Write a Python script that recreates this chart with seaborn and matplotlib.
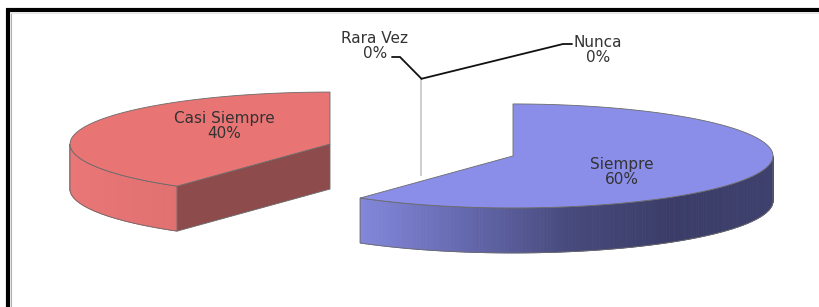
import numpy as np
import matplotlib
matplotlib.use("Agg")
import matplotlib.pyplot as plt
import seaborn as sns
from matplotlib.patches import Polygon

# ---------------- data ----------------
categories = ["Siempre", "Casi Siempre", "Rara Vez", "Nunca"]
values = [60, 40, 0, 0]
pct_labels = ["60%", "40%", "0%", "0%"]

# ---------------- styles ----------------
top_colors = ["#8a8ee9", "#e87474", "#bbbbbb", "#bbbbbb"]
cut_colors = ["#3e4070", "#8e4b4b", "#c8c8c8", "#c8c8c8"]
wall_palettes = [
    ["#8287da", "#6569ae", "#474a7c", "#3b3d68", "#3e406d"],
    ["#e97777", "#e57373", "#e07070"],
    ["#cccccc", "#cccccc"],
    ["#cccccc", "#cccccc"],
]

sns.set_theme(style="white")
plt.rcParams["font.family"] = ["DejaVu Sans"]

W, H = 820, 307
fig = plt.figure(figsize=(W / 100, H / 100), dpi=100)
ax = fig.add_axes([0, 0, 1, 1])
ax.set_xlim(0, W)
ax.set_ylim(H, 0)
ax.axis("off")

# layout of the 3D pie (pixels)
CX, CY = 421.5, 150.0
A, B = 260.0, 52.0
DEPTH = 45.0
EXPLODE = 0.37
EDGE = "#6b6b6b"
TXT = "#333333"
FS = 11
LS = 0.95


def pt(cx, cy, th, dy=0.0):
    r = np.radians(th)
    return cx + A * np.sin(r), cy - B * np.cos(r) + dy


total = float(sum(values))
start = 0.0
slices = []
for i, v in enumerate(values):
    span = 360.0 * v / total
    th1, th2 = start, start + span
    mid = (th1 + th2) / 2.0
    cx = CX + EXPLODE * A * np.sin(np.radians(mid))
    cy = CY - EXPLODE * B * np.cos(np.radians(mid))
    slices.append((i, v, th1, th2, cx, cy))
    start = th2

# zero-value slices: degenerate face (line)
for i, v, th1, th2, cx, cy in slices:
    if v == 0:
        rx, ry = pt(cx, cy, th1)
        poly = [(cx, cy), (rx, ry), (rx, ry + DEPTH), (cx, cy + DEPTH)]
        ax.add_patch(Polygon(poly, closed=True, fill=False,
                             edgecolor="#cfcfcf", lw=1.2, zorder=1))

# walls, cut faces and top faces
for i, v, th1, th2, cx, cy in slices:
    if v == 0:
        continue
    lo, hi = max(th1, 90.0), min(th2, 270.0)
    if hi > lo:
        ths = np.linspace(lo, hi, 160)
        xs = [pt(cx, cy, t)[0] for t in ths]
        xl, xr = min(xs), max(xs)
        pal = sns.blend_palette(wall_palettes[i], n_colors=256)
        for k in range(len(ths) - 1):
            p1 = pt(cx, cy, ths[k]); p2 = pt(cx, cy, ths[k + 1])
            xm = 0.5 * (p1[0] + p2[0])
            t = (xm - xl) / (xr - xl) if xr > xl else 0
            c = pal[int(np.clip(t, 0, 1) * 255)]
            quad = [p1, p2, (p2[0], p2[1] + DEPTH), (p1[0], p1[1] + DEPTH)]
            ax.add_patch(Polygon(quad, closed=True, facecolor=c,
                                 edgecolor=c, lw=0.6, zorder=2))
        top = [pt(cx, cy, t) for t in ths]
        bot = [pt(cx, cy, t, DEPTH) for t in ths[::-1]]
        ax.add_patch(Polygon(top + bot, closed=True, fill=False,
                             edgecolor=EDGE, lw=0.6, zorder=3))
    for th, sign in ((th1, -1), (th2, 1)):
        s = np.sin(np.radians(th))
        if sign * s > 1e-6:
            rx, ry = pt(cx, cy, th)
            face = [(cx, cy), (rx, ry), (rx, ry + DEPTH), (cx, cy + DEPTH)]
            ax.add_patch(Polygon(face, closed=True, facecolor=cut_colors[i],
                                 edgecolor=EDGE, lw=0.6, zorder=3))
    ths = np.linspace(th1, th2, 200)
    poly = [(cx, cy)] + [pt(cx, cy, t) for t in ths]
    ax.add_patch(Polygon(poly, closed=True, facecolor=top_colors[i],
                         edgecolor=EDGE, lw=0.6, zorder=4))

# labels for non-zero slices
label_offsets = {0: (109, 16), 1: (-106, -18)}
for i, v, th1, th2, cx, cy in slices:
    if v > 0:
        dx, dy = label_offsets[i]
        ax.text(cx + dx, cy + dy, f"{categories[i]}\n{pct_labels[i]}",
                ha="center", va="center", fontsize=FS, color=TXT,
                linespacing=LS, zorder=6)

# labels with leader lines for zero slices
leader = {2: [(400, 57), (392, 57)], 3: [(563, 44), (572, 44)]}
zero_text = {2: (375, 46), 3: (598, 50)}
for i, v, th1, th2, cx, cy in slices:
    if v == 0:
        rx, ry = pt(cx, cy, th1)
        pts = [(rx, ry)] + leader[i]
        ax.plot([p[0] for p in pts], [p[1] for p in pts], color="#111111",
                lw=1.3, solid_joinstyle="miter", zorder=5)
        tx, ty = zero_text[i]
        ax.text(tx, ty, f"{categories[i]}\n{pct_labels[i]}", ha="center",
                va="center", fontsize=FS, color=TXT, linespacing=LS,
                zorder=6)

# frame
ax.plot([6, W], [10, 10], color="black", lw=3.0, solid_capstyle="butt", zorder=7)
ax.plot([8, 8], [8.5, H], color="black", lw=3.0, solid_capstyle="butt", zorder=7)
ax.plot([11.5, 11.5], [13, H], color="#b0b0b0", lw=0.8, zorder=7)
ax.plot([11.5, W], [13, 13], color="#e6e6e6", lw=0.8, zorder=7)

fig.savefig("out.png", dpi=100, facecolor="white")
